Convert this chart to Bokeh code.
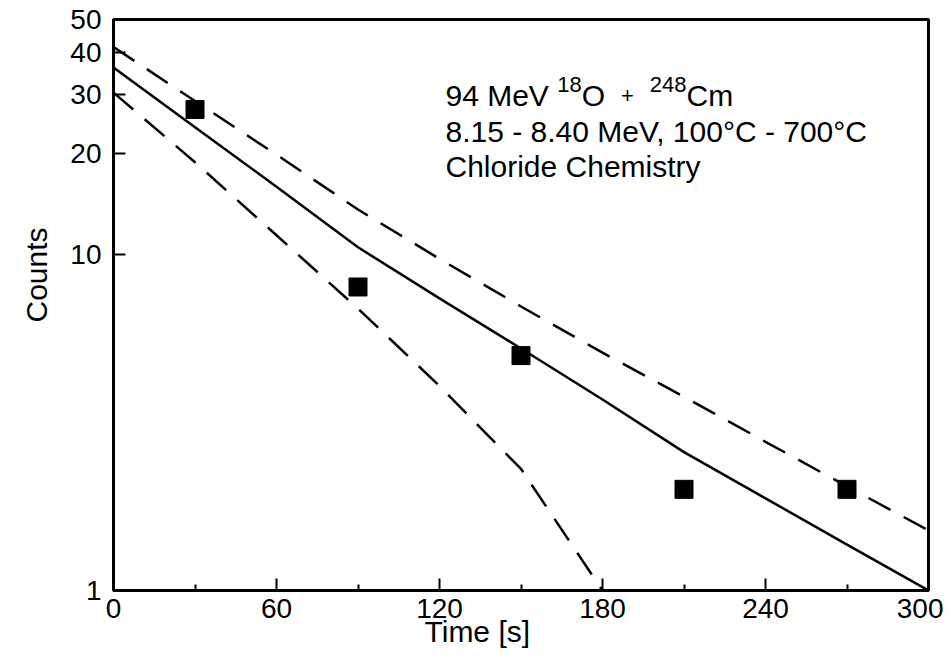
from bokeh.plotting import figure
from bokeh.models import FixedTicker, Label, Title
from bokeh.embed import file_html
from bokeh.resources import INLINE

# ---- data ----
meas_t = [30, 90, 150, 210, 270]
meas_counts = [27, 8, 5, 2, 2]

fit_t = [0, 30, 60, 90, 120, 150, 180, 210, 240, 270, 300]
fit_counts = [36.0, 23.9, 15.9, 10.5, 7.4, 5.25, 3.7, 2.58, 1.88, 1.37, 1.0]
upper_counts = [41.4, 28.6, 19.8, 13.6, 9.7, 7.0, 5.1, 3.77, 2.77, 2.04, 1.51]

lower_t = [0, 30, 60, 90, 120, 150, 180]
lower_counts = [30.3, 18.8, 11.4, 6.9, 4.06, 2.3, 1.0]

x_ticks = [0, 60, 120, 180, 240, 300]
x_minor = [30, 90, 150, 210, 270]
y_ticks = [1, 10, 20, 30, 40, 50]
y_labels = ["1", "10", "20", "30", "40", "50"]

FONT = "Liberation Sans"

p = figure(width=943, height=655, frame_width=815, frame_height=571,
           min_border_left=113, min_border_right=15, min_border_top=19,
           min_border_bottom=65, x_range=(0, 300), y_range=(1, 50),
           y_axis_type="log", output_backend="svg", toolbar_location=None,
           background_fill_color="white", border_fill_color="white")

p.xgrid.visible = False
p.ygrid.visible = False
p.outline_line_color = "black"
p.outline_line_width = 3

for ax in (p.xaxis[0], p.yaxis[0]):
    ax.axis_line_width = 3
    ax.axis_line_color = "black"
    ax.major_tick_out = 0
    ax.major_tick_in = 12
    ax.major_tick_line_width = 2
    ax.minor_tick_out = 0
    ax.minor_tick_in = 6
    ax.minor_tick_line_width = 2
    ax.major_label_text_font = FONT
    ax.major_label_text_font_size = "28px"
    ax.major_label_text_color = "black"

p.xaxis[0].ticker = FixedTicker(ticks=x_ticks, minor_ticks=x_minor)
p.xaxis[0].major_label_standoff = 8
p.yaxis[0].ticker = FixedTicker(ticks=y_ticks, minor_ticks=[])
p.yaxis[0].major_label_overrides = {t: l for t, l in zip(y_ticks, y_labels)}
p.yaxis[0].major_label_standoff = 12

# curves
p.line(fit_t, fit_counts, line_color="black", line_width=2.5)
p.line(fit_t, upper_counts, line_color="black", line_width=2.5, line_dash="25 15")
p.line(lower_t, lower_counts, line_color="black", line_width=2.5, line_dash="26 15")

# measured points
p.scatter(meas_t, meas_counts, marker="square", size=18, fill_color="black",
          line_color="black")

# axis titles (as side titles so they can be placed freely)
p.add_layout(Title(text="Time [s]", align="left", offset=311, standoff=-15,
                   text_font=FONT, text_font_size="30px",
                   text_font_style="normal", text_color="black"), "below")
p.add_layout(Title(text="Counts", align="left", offset=268, standoff=30,
                   text_font=FONT, text_font_size="30px",
                   text_font_style="normal", text_color="black"), "left")

# annotation text
ax0 = 122.2
big = 30
small = 22
pieces = []
x_off = 0
pieces.append(("94 MeV", x_off, 0, big)); x_off += 3.724 * big
pieces.append(("18", x_off, 11, small)); x_off += 1.112 * small
pieces.append(("O", x_off, 0, big)); x_off += 0.778 * big + 16
pieces.append(("+", x_off, 0, small)); x_off += 0.584 * small + 16
pieces.append(("248", x_off, 11, small)); x_off += 1.668 * small
pieces.append(("Cm", x_off, 0, big))
for txt, xo, yo, fs in pieces:
    p.add_layout(Label(x=ax0, y=29.7, x_offset=xo, y_offset=yo, text=txt,
                       text_font=FONT, text_font_size=f"{fs}px",
                       text_baseline="alphabetic", text_color="black"))

p.add_layout(Label(x=ax0, y=23.2, text="8.15 - 8.40 MeV, 100°C - 700°C",
                   text_font=FONT, text_font_size=f"{big}px",
                   text_baseline="alphabetic", text_color="black"))
p.add_layout(Label(x=ax0, y=18.3, text="Chloride Chemistry",
                   text_font=FONT, text_font_size=f"{big}px",
                   text_baseline="alphabetic", text_color="black"))

open("out.html", "w").write(file_html(p, INLINE))
